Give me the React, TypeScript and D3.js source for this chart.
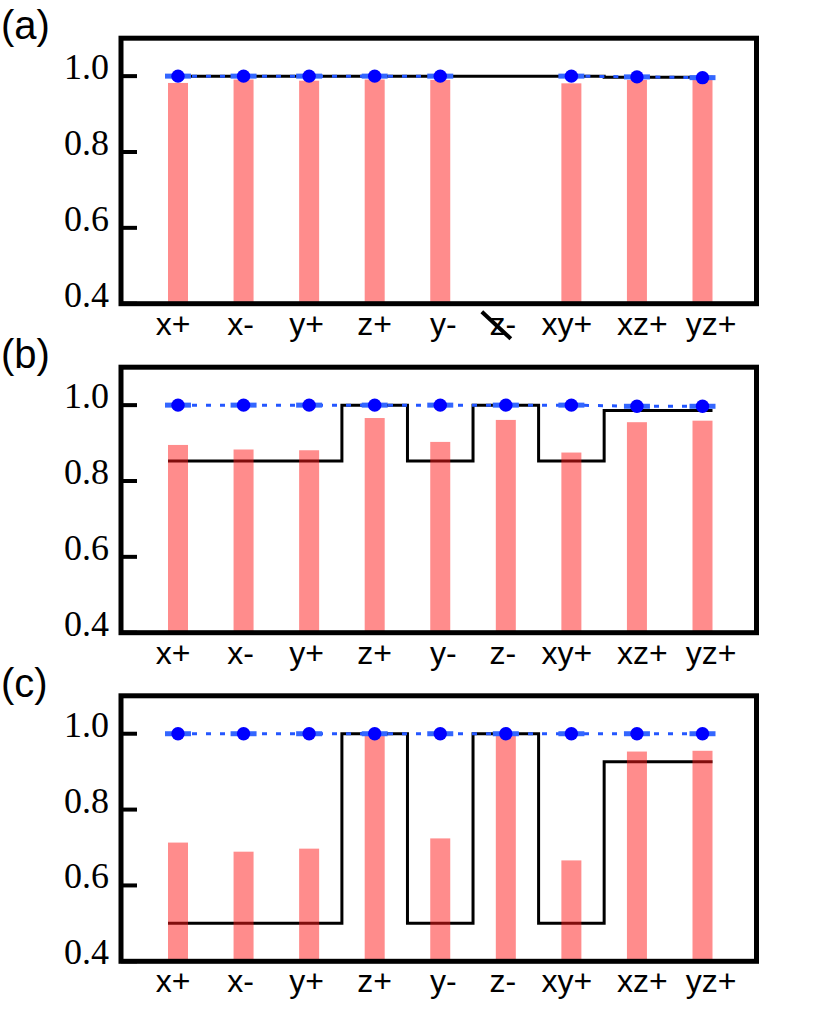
import React from "react";
import * as d3 from "d3";

const categories = ["x+", "x-", "y+", "z+", "y-", "z-", "xy+", "xz+", "yz+"];
// small horizontal nudges of the category labels, as set in the original figure
const labelNudge = [-5, -3, -2.5, 0, 3, -3, -4.5, 5.5, 8.5];
const yTicks = [0.4, 0.6, 0.8, 1.0];

// panel (a): z- is removed (crossed label, no bar/dot)
const barsA = [0.982, 0.991, 0.988, 0.991, 0.99, null, 0.981, 0.99, 0.99];
const dotsA = [1, 1, 1, 1, 1, null, 1, 0.998, 0.996];
const stepA = [1, 1, 1, 1, 1, 1, 1, 0.997, 0.997];

const barsB = [0.895, 0.883, 0.881, 0.966, 0.903, 0.961, 0.875, 0.955, 0.959];
const dotsB = [1, 1, 1, 1, 1, 1, 1, 0.997, 0.997];
const stepB = [0.853, 0.853, 0.853, 1, 0.853, 1, 0.853, 0.986, 0.986];

const barsC = [0.713, 0.689, 0.697, 1.0, 0.724, 0.997, 0.666, 0.953, 0.955];
const dotsC = [1, 1, 1, 1, 1, 1, 1, 1, 1];
const stepC = [0.5, 0.5, 0.5, 1, 0.5, 1, 0.5, 0.926, 0.926];

const W = 831;
const H = 1018;
const LEFT = 121;
const RIGHT = 756.5;
const PH = 265.5;
const BAR_W = 20;

interface PanelProps {
  top: number;
  label: string;
  bars: (number | null)[];
  dots: (number | null)[];
  steps: number[];
  crossed?: string;
}

const Panel: React.FC<PanelProps> = ({ top, label, bars, dots, steps, crossed }) => {
  const bottom = top + PH;
  const x = d3.scalePoint<string>().domain(categories).range([LEFT + 57, RIGHT - 54]);
  const y = d3.scaleLinear().domain([0.4, 1.1]).range([bottom, top]);

  const xs = categories.map((c) => x(c) as number);
  const stepPts: [number, number][] = [
    [xs[0] - BAR_W / 2, steps[0]],
    ...xs.map((px, i) => [px, steps[i]] as [number, number]),
    [xs[xs.length - 1] + BAR_W / 2, steps[steps.length - 1]],
  ];
  const stepLine = d3
    .line<[number, number]>()
    .x((d) => d[0])
    .y((d) => y(d[1]))
    .curve(d3.curveStep);

  const dotLine = d3
    .line<number | null>()
    .defined((d) => d != null)
    .x((_, i) => xs[i])
    .y((d) => y(d as number));

  return (
    <g>
      <text x={1} y={top + 1} fontFamily="'Liberation Sans', Arial, sans-serif" fontSize={40}>
        {label}
      </text>
      <path d={stepLine(stepPts) || ""} fill="none" stroke="#000" strokeWidth={3} />
      {bars.map((v, i) =>
        v == null ? null : (
          <rect
            key={i}
            x={xs[i] - BAR_W / 2}
            y={y(v)}
            width={BAR_W}
            height={bottom - y(v)}
            fill="#ff1a1a"
            fillOpacity={0.5}
          />
        )
      )}
      <path
        d={dotLine(dots) || ""}
        fill="none"
        stroke="#2457ff"
        strokeWidth={3}
        strokeDasharray="5,9"
      />
      {dots.map((v, i) =>
        v == null ? null : (
          <g key={i}>
            <line
              x1={xs[i] - 13}
              x2={xs[i] + 13}
              y1={y(v)}
              y2={y(v)}
              stroke="#3366ff"
              strokeWidth={5}
            />
            <circle cx={xs[i]} cy={y(v)} r={6.7} fill="#0000ff" />
          </g>
        )
      )}
      <rect x={LEFT} y={top} width={RIGHT - LEFT} height={PH} fill="none" stroke="#000" strokeWidth={5} />
      {yTicks.map((t) => (
        <g key={t}>
          <line x1={LEFT} x2={LEFT + 16} y1={y(t)} y2={y(t)} stroke="#000" strokeWidth={4} />
          <text
            x={109}
            y={y(t) + 3}
            textAnchor="end"
            fontFamily="'Liberation Serif', 'Times New Roman', serif"
            fontSize={36}
          >
            {t.toFixed(1)}
          </text>
        </g>
      ))}
      {categories.map((c, i) => (
        <text
          key={c}
          x={xs[i] + labelNudge[i]}
          y={bottom + 31}
          textAnchor="middle"
          fontFamily="'Liberation Sans', Arial, sans-serif"
          fontSize={32}
        >
          {c}
        </text>
      ))}
      {crossed && (
        <line
          x1={(x(crossed) as number) - 24}
          y1={bottom + 8}
          x2={(x(crossed) as number) + 5}
          y2={bottom + 35}
          stroke="#000"
          strokeWidth={4}
        />
      )}
    </g>
  );
};

export default function App() {
  return (
    <svg
      width={W}
      height={H}
      style={{ position: "absolute", left: 0, top: 0, background: "#fff" }}
    >
      <Panel top={38.2} label="(a)" bars={barsA} dots={dotsA} steps={stepA} crossed="z-" />
      <Panel top={367.2} label="(b)" bars={barsB} dots={dotsB} steps={stepB} />
      <Panel top={695.8} label="(c)" bars={barsC} dots={dotsC} steps={stepC} />
    </svg>
  );
}
